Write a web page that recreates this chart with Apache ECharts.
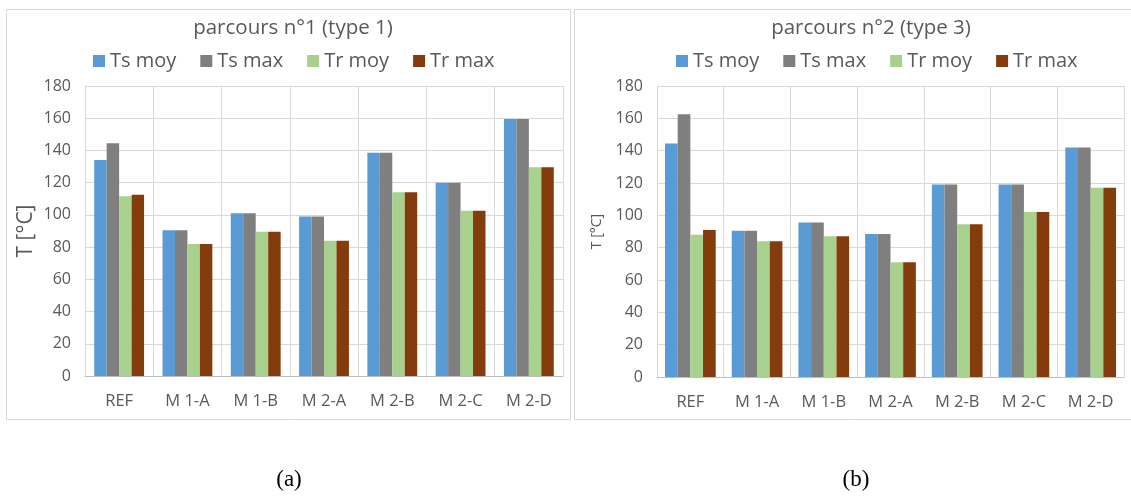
<!DOCTYPE html>
<html><head><meta charset="utf-8">
<script src="https://cdn.jsdelivr.net/npm/echarts@6/dist/echarts.min.js"></script>
<style>html,body{margin:0;padding:0;background:#fff}#c{width:1131px;height:498px}</style>
</head><body><div id="c"></div>
<script>
const categories = ['REF','M 1-A','M 1-B','M 2-A','M 2-B','M 2-C','M 2-D'];
const seriesNames = ['Ts moy','Ts max','Tr moy','Tr max'];
const colors = ['#5b9bd5','#7f7f7f','#a9d18e','#843c0c'];
// chart (a) parcours n°1
const a_TsMoy = [134, 90.5, 101, 99, 138.5, 120, 159.5];
const a_TsMax = [144.5, 90.5, 101, 99, 138.5, 120, 159.5];
const a_TrMoy = [111.5, 82, 89.5, 84, 114, 102.5, 129.5];
const a_TrMax = [112.5, 82, 89.5, 84, 114, 102.5, 129.5];
// chart (b) parcours n°2
const b_TsMoy = [144.5, 90.5, 95.5, 88.5, 119, 119, 142];
const b_TsMax = [162.5, 90.5, 95.5, 88.5, 119, 119, 142];
const b_TrMoy = [88, 84, 87, 71, 94.5, 102, 117];
const b_TrMax = [91, 84, 87, 71, 94.5, 102, 117];
const titles = ['parcours n°1 (type 1)','parcours n°2 (type 3)'];
const yName = 'T [°C]';
const captions = ['(a)','(b)'];

const FONT = '"Open Sans", "Noto Sans", sans-serif';
const TXT = '#595959';
const chart = echarts.init(document.getElementById('c'));
const dataA = [a_TsMoy,a_TsMax,a_TrMoy,a_TrMax];
const dataB = [b_TsMoy,b_TsMax,b_TrMoy,b_TrMax];

function xAx(gi){return {type:'category',gridIndex:gi,data:categories,
  axisLine:{lineStyle:{color:'#bfbfbf'}},axisTick:{show:false},
  axisLabel:{color:TXT,fontSize:16.5,fontFamily:FONT,margin:17,interval:0},
  splitLine:{show:true,interval:0,lineStyle:{color:'#d9d9d9'}}};}
function yAx(gi,nameSize,nameGap){return {type:'value',gridIndex:gi,min:0,max:180,interval:20,
  name:yName,nameLocation:'middle',nameGap:nameGap,
  nameTextStyle:{color:TXT,fontSize:nameSize,fontFamily:FONT},
  axisLine:{show:false},axisTick:{show:false},
  axisLabel:{color:TXT,fontSize:16,fontFamily:FONT,margin:14},
  splitLine:{lineStyle:{color:'#d9d9d9'}}};}

const series=[];
seriesNames.forEach((n,i)=>{
  series.push({name:n,type:'bar',xAxisIndex:0,yAxisIndex:0,data:dataA[i],
    itemStyle:{color:colors[i]},barGap:'0%',barCategoryGap:'27%'});
});
seriesNames.forEach((n,i)=>{
  series.push({name:n,type:'bar',xAxisIndex:1,yAxisIndex:1,data:dataB[i],
    itemStyle:{color:colors[i]},barGap:'0%',barCategoryGap:'24%'});
});

chart.setOption({
  animation:false,
  textStyle:{fontFamily:FONT},
  title:[
    {text:titles[0],left:288,top:13,textAlign:'center',textStyle:{color:TXT,fontSize:20.5,fontWeight:'normal',fontFamily:FONT}},
    {text:titles[1],left:866,top:13,textAlign:'center',textStyle:{color:TXT,fontSize:20.5,fontWeight:'normal',fontFamily:FONT}}
  ],
  legend:[
    {data:seriesNames,left:88,top:46,itemWidth:12,itemHeight:12,itemGap:24,icon:'rect',
      textStyle:{color:TXT,fontSize:20,fontFamily:FONT}},
    {data:seriesNames,left:671,top:46,itemWidth:12,itemHeight:12,itemGap:24,icon:'rect',
      textStyle:{color:TXT,fontSize:20,fontFamily:FONT}}
  ],
  grid:[
    {left:85,right:568,top:86,bottom:122},
    {left:657,right:7,top:86,bottom:121}
  ],
  xAxis:[xAx(0),xAx(1)],
  yAxis:[yAx(0,21,48),yAx(1,14,53)],
  series:series,
  graphic:[
    {type:'rect',shape:{x:6.5,y:9.5,width:564,height:410},style:{fill:'none',stroke:'#d9d9d9',lineWidth:1},z:-1},
    {type:'rect',shape:{x:574.5,y:9.5,width:560,height:410},style:{fill:'none',stroke:'#d9d9d9',lineWidth:1},z:-1},
    {type:'text',x:289,y:480,style:{text:captions[0],fill:'#000',font:'23px "Liberation Serif", serif',textAlign:'center',textVerticalAlign:'middle'}},
    {type:'text',x:856,y:480,style:{text:captions[1],fill:'#000',font:'23px "Liberation Serif", serif',textAlign:'center',textVerticalAlign:'middle'}}
  ]
});
</script></body></html>
